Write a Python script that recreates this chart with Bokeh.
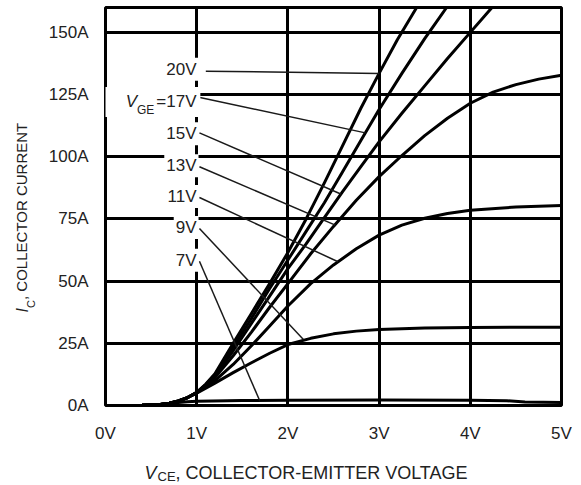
import math
from bokeh.plotting import figure
from bokeh.layouts import row, column
from bokeh.models import Label, BoxAnnotation, Range1d, FixedTicker, PrintfTickFormatter
from bokeh.embed import file_html
from bokeh.resources import INLINE

# ---------------- data ----------------
x_ticks = [0, 1, 2, 3, 4, 5]
y_ticks = [0, 25, 50, 75, 100, 125, 150]

vce_20 = [0, 0.4, 0.6, 0.7, 0.8, 0.9, 1.0, 1.1, 1.2, 1.4, 1.6, 1.8, 2.0, 2.2, 2.4, 2.6, 2.8, 3.0, 3.2, 3.42]
ic_20 = [0, 0.1, 0.4, 0.9, 1.8, 3.2, 5.3, 8.6, 12.8, 25, 37, 49, 61.5, 75, 89.5, 104.5, 119.5, 133.5, 147, 160.5]

vce_17 = [0, 0.4, 0.6, 0.7, 0.8, 0.9, 1.0, 1.1, 1.2, 1.4, 1.6, 1.8, 2.0, 2.2, 2.4, 2.6, 2.8, 3.0, 3.25, 3.5, 3.75]
ic_17 = [0, 0.1, 0.4, 0.9, 1.8, 3.2, 5.2, 8.4, 12.3, 23.5, 35, 47, 58.5, 70, 81.5, 94, 106.5, 119, 133.5, 147.5, 160.5]

vce_15 = [0, 0.4, 0.6, 0.7, 0.8, 0.9, 1.0, 1.1, 1.2, 1.4, 1.6, 1.8, 2.0, 2.2, 2.4, 2.6, 2.8, 3.0, 3.25, 3.5, 3.75, 4.0, 4.25]
ic_15 = [0, 0.1, 0.4, 0.9, 1.8, 3.2, 5.2, 8.2, 11.8, 22, 33, 44, 55, 65, 75.5, 86, 96, 106, 117.5, 128.5, 139.5, 150, 160.5]

vce_13 = [0, 0.4, 0.6, 0.7, 0.8, 0.9, 1.0, 1.1, 1.2, 1.4, 1.6, 1.8, 2.0, 2.25, 2.5, 2.75, 3.0, 3.25, 3.5, 3.75, 4.0, 4.25, 4.5, 4.75, 5.0]
ic_13 = [0, 0.1, 0.4, 0.9, 1.8, 3.2, 5.2, 8.0, 11.2, 20, 29.5, 39.5, 49, 61, 72, 82.5, 92, 100.5, 108.5, 115.5, 121.5, 126, 129, 131.2, 132.8]

vce_11 = [0, 0.4, 0.6, 0.7, 0.8, 0.9, 1.0, 1.1, 1.2, 1.4, 1.6, 1.8, 2.0, 2.25, 2.5, 2.75, 3.0, 3.25, 3.5, 3.75, 4.0, 4.5, 5.0]
ic_11 = [0, 0.1, 0.4, 0.9, 1.8, 3.2, 5.1, 7.5, 10, 16.5, 24, 32, 40, 49, 56.5, 63, 68.5, 72.5, 75.3, 77.2, 78.5, 79.8, 80.4]

vce_9 = [0, 0.4, 0.6, 0.7, 0.8, 0.9, 1.0, 1.1, 1.2, 1.4, 1.6, 1.8, 2.0, 2.25, 2.5, 2.75, 3.0, 3.5, 4.0, 4.5, 5.0]
ic_9 = [0, 0.1, 0.4, 0.9, 1.8, 3.2, 5.0, 7.0, 9.0, 13.2, 17.2, 21, 24.5, 27, 28.8, 29.9, 30.6, 31.2, 31.4, 31.5, 31.5]

vce_7 = [0, 0.4, 0.6, 0.7, 0.8, 0.9, 1.0, 1.5, 2.0, 3.0, 4.0, 4.4, 4.6, 5.0]
ic_7 = [0, 0.1, 0.4, 0.8, 1.2, 1.5, 1.7, 2.0, 2.1, 2.2, 2.1, 1.9, 1.4, 1.2]

curve_labels = ["20V", "15V", "13V", "11V", "9V", "7V"]

# ---------------- main figure ----------------
FONT = "Liberation Sans"
TXT = "#222222"

YT_W = 40          # width of the y-title strip
MAIN_H = 445
XT_H = 38          # height of the x-title strip

p = figure(width=581 - YT_W, height=MAIN_H, output_backend="svg", toolbar_location=None,
           x_range=Range1d(0, 5), y_range=Range1d(0, 160),
           min_border_left=105 - YT_W, min_border_right=20, min_border_top=7, min_border_bottom=MAIN_H - 407)
p.background_fill_color = "white"
p.border_fill_color = "white"
p.outline_line_color = "black"
p.outline_line_width = 3
p.outline_line_alpha = 1

p.xaxis.ticker = FixedTicker(ticks=x_ticks)
p.yaxis.ticker = FixedTicker(ticks=y_ticks)
p.xaxis.formatter = PrintfTickFormatter(format="%dV")
p.yaxis.formatter = PrintfTickFormatter(format="%dA")
for ax in (p.xaxis, p.yaxis):
    ax.axis_line_color = None
    ax.major_tick_line_color = None
    ax.minor_tick_line_color = None
    ax.major_label_text_font = FONT
    ax.major_label_text_font_size = "17px"
    ax.major_label_text_color = TXT
    ax.major_label_standoff = 12
p.yaxis.major_label_standoff = 11

p.grid.grid_line_color = "black"
p.grid.grid_line_width = 3
p.grid.grid_line_alpha = 1

for xs, ys in [(vce_20, ic_20), (vce_17, ic_17), (vce_15, ic_15), (vce_13, ic_13),
               (vce_11, ic_11), (vce_9, ic_9), (vce_7, ic_7)]:
    p.line(xs, ys, line_color="black", line_width=3, line_join="round")

leaders = [
    ((1.10, 134.4), (3.0, 133.5)),
    ((1.01, 124.0), (2.85, 109.6)),
    ((1.03, 109.6), (2.58, 85.0)),
    ((1.03, 96.0), (2.52, 72.5)),
    ((1.03, 83.6), (2.55, 57.8)),
    ((1.03, 71.2), (2.17, 26.5)),
    ((1.03, 58.0), (1.69, 2.0)),
]
for (x0, y0), (x1, y1) in leaders:
    p.line([x0, x1], [y0, y1], line_color="#1a1a1a", line_width=1.5)

p.add_layout(BoxAnnotation(left=-0.03, right=1.04, bottom=116, top=128,
                           fill_color="white", fill_alpha=1, line_color=None))

label_pos = [135.2, 109.2, 96.4, 84.0, 71.6, 58.4]
for t, y in zip(curve_labels, label_pos):
    p.add_layout(Label(x=1.02, y=y, text=t, text_align="right", text_baseline="middle",
                       text_font=FONT, text_font_size="17px", text_color=TXT,
                       background_fill_color="white", background_fill_alpha=1, padding=2))

p.add_layout(Label(x=0.998, y=122.4, text="=17V", text_align="right", text_baseline="middle",
                   text_font=FONT, text_font_size="17px", text_color=TXT))
p.add_layout(Label(x=0.535, y=118.6, text="GE", text_align="right", text_baseline="middle",
                   text_font=FONT, text_font_size="12px", text_color=TXT))
p.add_layout(Label(x=0.345, y=122.4, text="V", text_align="right", text_baseline="middle",
                   text_font=FONT, text_font_size="17px", text_font_style="italic", text_color=TXT))

# ---------------- y-title strip (pixel coordinates) ----------------
yt = figure(width=YT_W, height=MAIN_H, output_backend="svg", toolbar_location=None,
            x_range=Range1d(0, YT_W), y_range=Range1d(0, MAIN_H),
            x_axis_location=None, y_axis_location=None,
            min_border_left=0, min_border_right=0, min_border_top=0, min_border_bottom=0)
yt.grid.visible = False
yt.outline_line_color = None
SHIFT = 25
yt.add_layout(Label(x=21.5, y=MAIN_H - 316 - SHIFT, text="I", angle=math.pi / 2, text_align="left",
                    text_baseline="middle", text_font=FONT, text_font_size="16px",
                    text_font_style="italic", text_color=TXT))
yt.add_layout(Label(x=30, y=MAIN_H - 311 - SHIFT, text="C", angle=math.pi / 2, text_align="left",
                    text_baseline="middle", text_font=FONT, text_font_size="11px", text_color=TXT))
yt.add_layout(Label(x=20.5, y=MAIN_H - 302 - SHIFT, text=", COLLECTOR CURRENT", angle=math.pi / 2,
                    text_align="left", text_baseline="middle", text_font=FONT,
                    text_font_size="15px", text_color=TXT))

# ---------------- x-title strip (pixel coordinates) ----------------
TOT = MAIN_H + XT_H
xt = figure(width=581, height=XT_H, output_backend="svg", toolbar_location=None,
            x_range=Range1d(0, 581), y_range=Range1d(0, XT_H),
            x_axis_location=None, y_axis_location=None,
            min_border_left=0, min_border_right=0, min_border_top=0, min_border_bottom=0)
xt.grid.visible = False
xt.outline_line_color = None
xt.add_layout(Label(x=144, y=TOT - 472, text="V", text_align="left", text_baseline="middle",
                    text_font=FONT, text_font_size="18px", text_font_style="italic", text_color=TXT))
xt.add_layout(Label(x=157, y=TOT - 476, text="CE", text_align="left", text_baseline="middle",
                    text_font=FONT, text_font_size="13px", text_color=TXT))
xt.add_layout(Label(x=175, y=TOT - 472, text=", COLLECTOR-EMITTER VOLTAGE", text_align="left",
                    text_baseline="middle", text_font=FONT, text_font_size="18px", text_color=TXT))

layout = column(row(yt, p, spacing=0), xt, spacing=0)
open("out.html", "w").write(file_html(layout, INLINE))
